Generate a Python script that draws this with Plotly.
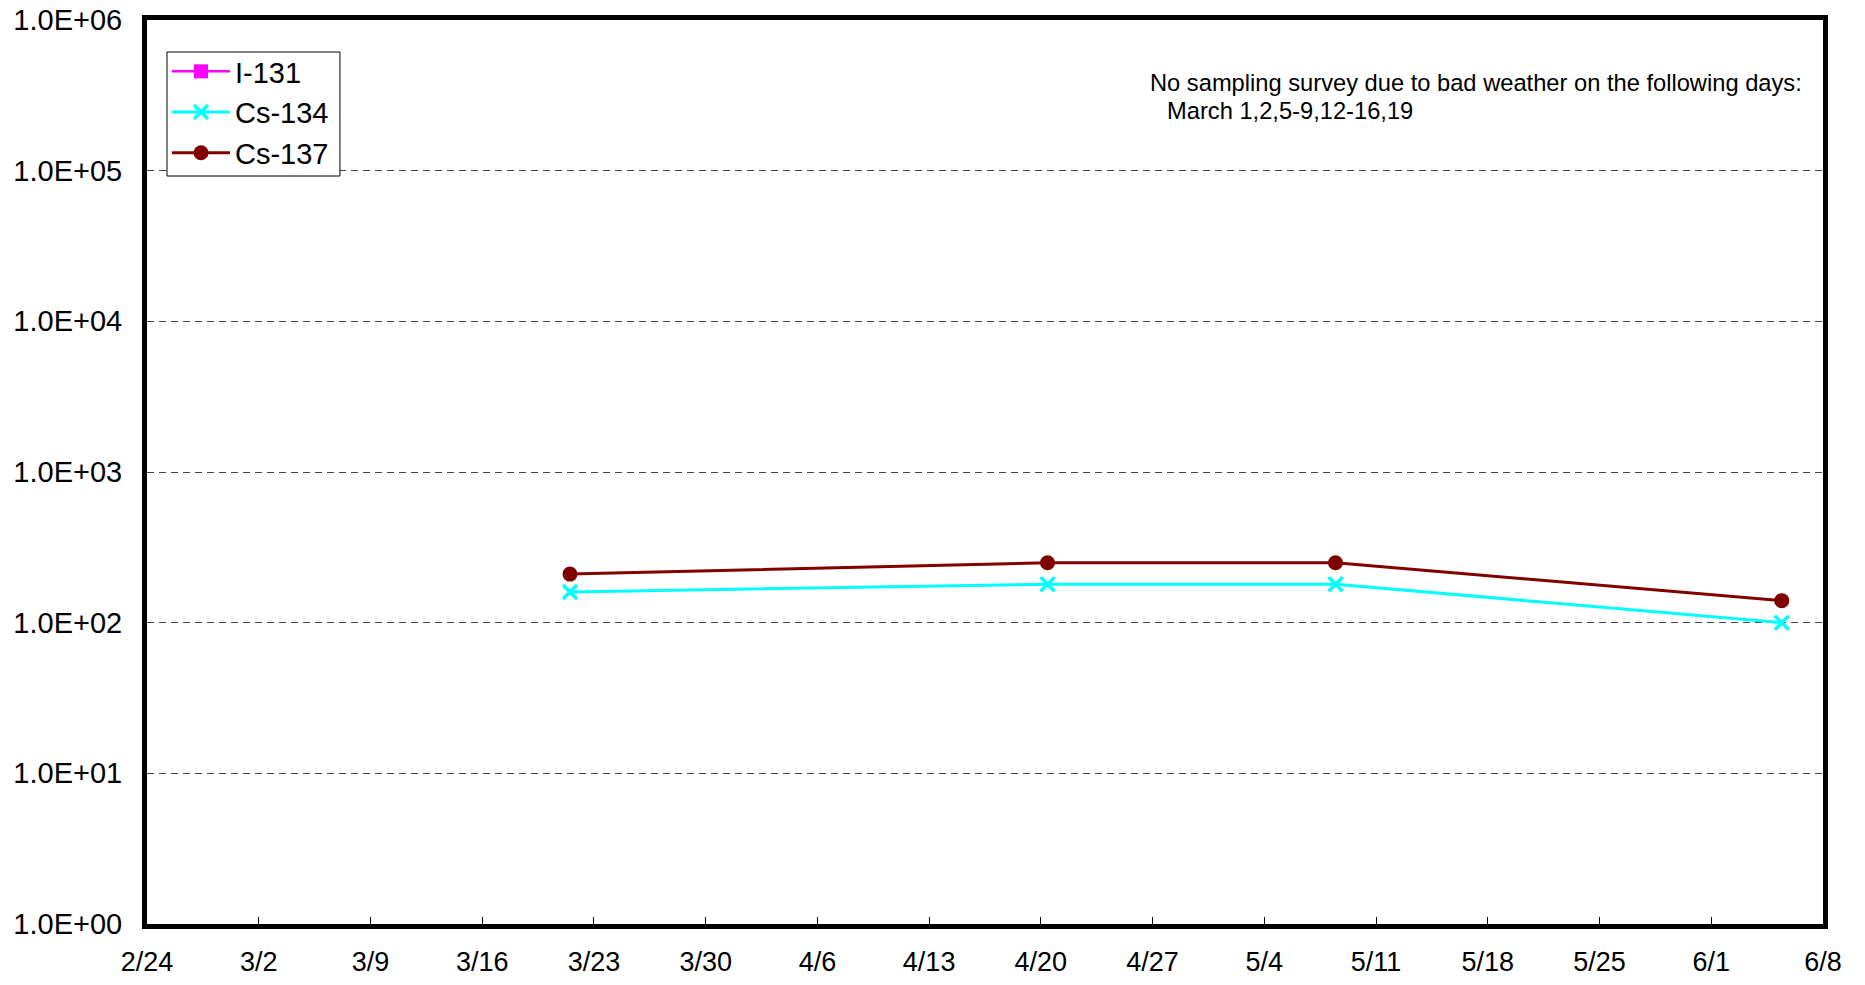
import plotly.graph_objects as go

# ---- data ----
sample_times = ["2012-03-21 12:00", "2012-04-20 10:00", "2012-05-08 11:00", "2012-06-05 10:00"]
i131 = [None, None, None, None]
cs134 = [160, 180, 180, 100]
cs137 = [210, 250, 250, 140]

y_tickvals = [1, 10, 100, 1000, 10000, 100000, 1000000]
y_ticktext = ["1.0E+00", "1.0E+01", "1.0E+02", "1.0E+03", "1.0E+04", "1.0E+05", "1.0E+06"]
x_range = ["2012-02-24", "2012-06-08"]

note_line1 = "No sampling survey due to bad weather on the following days:"
note_line2 = "March 1,2,5-9,12-16,19"

FONT = "Liberation Sans, Arial, sans-serif"

# plot-area geometry in page pixels
PX0, PX1, PY0, PY1 = 147.0, 1823.5, 20.0, 924.0
FIG_W, FIG_H = 1865, 985
PW, PH = PX1 - PX0, PY1 - PY0


def px(x):
    return (x - PX0) / PW


def py(y):
    return 1 - (y - PY0) / PH


fig = go.Figure()
fig.add_trace(go.Scatter(
    x=sample_times, y=i131, name="I-131", mode="lines+markers",
    line=dict(color="#FF00FF", width=2.5),
    marker=dict(symbol="square", size=14, color="#FF00FF"),
))
fig.add_trace(go.Scatter(
    x=sample_times, y=cs134, name="Cs-134", mode="lines+markers",
    line=dict(color="#00FFFF", width=3),
    marker=dict(symbol="x-thin", size=14, color="#00FFFF",
                line=dict(color="#00FFFF", width=3.5)),
))
fig.add_trace(go.Scatter(
    x=sample_times, y=cs137, name="Cs-137", mode="lines+markers",
    line=dict(color="#800000", width=3),
    marker=dict(symbol="circle", size=15, color="#800000"),
))

fig.update_layout(
    width=FIG_W, height=FIG_H,
    margin=dict(l=PX0, r=FIG_W - PX1, t=PY0, b=FIG_H - PY1, autoexpand=False),
    paper_bgcolor="white", plot_bgcolor="white",
    font=dict(family=FONT, size=27, color="black"),
    showlegend=True,
    legend=dict(
        x=px(167), y=py(46), xanchor="left", yanchor="top",
        bgcolor="rgba(0,0,0,0)", borderwidth=0,
        font=dict(family=FONT, size=29, color="black"),
        tracegroupgap=0, itemsizing="trace", itemwidth=58,
    ),
    shapes=[dict(
        type="rect", xref="paper", yref="paper",
        x0=px(167), x1=px(340), y0=py(176), y1=py(52),
        line=dict(color="black", width=1), fillcolor="white", layer="above",
    )],
    xaxis=dict(
        type="date", range=x_range, automargin=False,
        tick0="2012-02-24", dtick=7 * 24 * 3600 * 1000,
        tickformat="%-m/%-d",
        ticks="inside", ticklen=7, tickwidth=1, tickcolor="black",
        showline=True, linewidth=5, linecolor="black", mirror=True,
        showgrid=False, zeroline=False,
        tickfont=dict(family=FONT, size=27, color="black"),
        ticklabelstandoff=10, ticklabeloverflow="allow",
    ),
    yaxis=dict(
        type="log", range=[0, 6], automargin=False,
        tickvals=y_tickvals, ticktext=y_ticktext,
        ticks="", showline=True, linewidth=5, linecolor="black", mirror=True,
        showgrid=True, gridcolor="#444444", gridwidth=1, griddash="7px,5px",
        zeroline=False,
        tickfont=dict(family=FONT, size=29, color="black"),
        ticklabelstandoff=14, ticklabeloverflow="allow",
    ),
    annotations=[
        dict(text=note_line1, xref="paper", yref="paper",
             x=px(1148), y=py(83),
             xanchor="left", yanchor="middle", align="left", showarrow=False,
             font=dict(family=FONT, size=23.7, color="black")),
        dict(text=note_line2, xref="paper", yref="paper",
             x=px(1165), y=py(110.5),
             xanchor="left", yanchor="middle", align="left", showarrow=False,
             font=dict(family=FONT, size=23.7, color="black")),
    ],
)

fig.write_html("out.html",
               config={"displayModeBar": False},
               post_script="document.body.style.margin='0';"
                           "document.documentElement.style.overflow='hidden';")
